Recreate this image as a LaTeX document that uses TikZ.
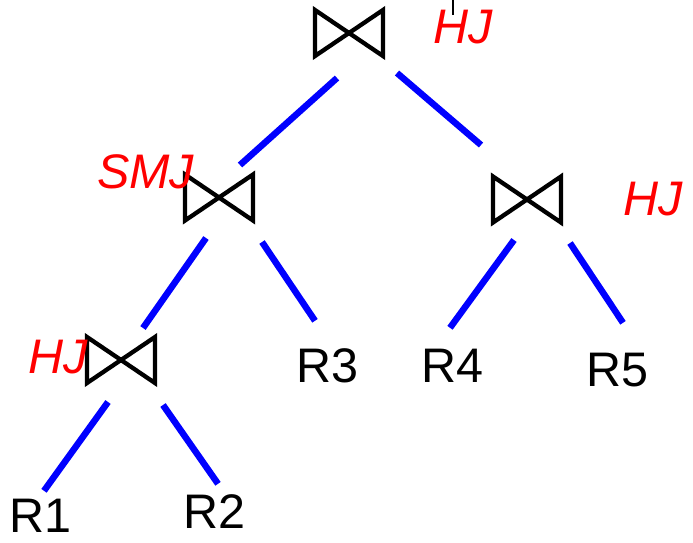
\documentclass[tikz,border=0pt]{standalone}
\usepackage{fontspec}
\setmainfont{Liberation Sans}
\begin{document}
\begin{tikzpicture}[x=1pt,y=-1pt,
  bowbox/.style={minimum width=68pt,minimum height=46pt,inner sep=0pt,outer sep=0pt},
  bow/.style={line width=4.3pt,black,line join=miter},
  edge/.style={line width=6.5pt,blue},
  rel/.style={anchor=base west,inner sep=0pt,text height=34pt,text depth=0pt,font=\fontsize{48.5}{50}\selectfont},
  alg/.style={anchor=base west,inner sep=0pt,text=red,font=\fontsize{48.5}{50}\selectfont\itshape}]
\useasboundingbox (0,0) rectangle (693,542);
% join nodes
\node[bowbox] (j1) at (349,33) {};
\node[bowbox] (j2) at (219,197.5) {};
\node[bowbox] (j3) at (527,199.5) {};
\node[bowbox] (j4) at (121,360) {};
\foreach \n in {j1,j2,j3,j4}
  \draw[bow] (\n.north west) -- (\n.south west) -- (\n.north east) -- (\n.south east) -- cycle;
% relations
\node[rel] (r1) at (9,532) {R1};
\node[rel] (r2) at (183,528) {R2};
\node[rel] (r3) at (296,382) {R3};
\node[rel] (r4) at (421,382) {R4};
\node[rel] (r5) at (586,386) {R5};
% algorithm labels
\node[alg] (a1) at (433,43) {HJ};
\node[alg] (a2) at (97,188) {SMJ};
\node[alg] (a3) at (623,215) {HJ};
\node[alg] (a4) at (28,373) {HJ};
% edges
\draw[edge] ([shift={(-12,22)}]j1.south) -- ([shift={(21,-9.5)}]j2.north);
\draw[edge] ([shift={(48,17)}]j1.south) -- ([shift={(-46,-31.5)}]j3.north);
\draw[edge] ([shift={(-13,17.5)}]j2.south) -- ([shift={(22,-9)}]j4.north);
\draw[edge] ([shift={(43,21.5)}]j2.south) -- ([shift={(19,-27)}]r3.north west);
\draw[edge] ([shift={(-13,17.5)}]j3.south) -- ([shift={(29,-20)}]r4.north west);
\draw[edge] ([shift={(43,20.5)}]j3.south) -- ([shift={(37,-29)}]r5.north west);
\draw[edge] ([shift={(-13,19)}]j4.south) -- ([shift={(35,-7)}]r1.north west);
\draw[edge] ([shift={(42,22)}]j4.south) -- ([shift={(35,-10)}]r2.north west);
% small stray mark above top label
\draw[line width=1.5pt] (453,0) -- (453,15);
\end{tikzpicture}
\end{document}
